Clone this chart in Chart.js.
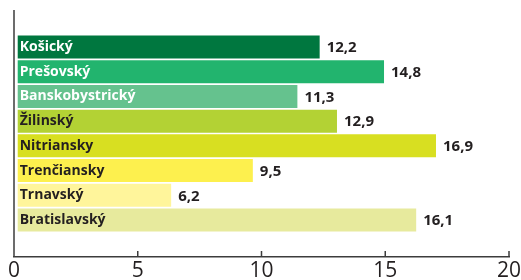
<!DOCTYPE html>
<html>
<head>
<meta charset="utf-8">
<script src="https://cdn.jsdelivr.net/npm/chart.js@4.4.1/dist/chart.umd.min.js"></script>
<style>
  body { margin: 0; background: #fff; }
  #wrap { width: 521px; height: 280px; position: relative; }
</style>
</head>
<body>
<div id="wrap"><canvas id="barChart"></canvas></div>
<script>
// Kraje a hodnoty
const kraje = ['Košický', 'Prešovský', 'Banskobystrický', 'Žilinský', 'Nitriansky', 'Trenčiansky', 'Trnavský', 'Bratislavský'];
const hodnoty = [12.2, 14.8, 11.3, 12.9, 16.9, 9.5, 6.2, 16.1];
const farby = ['#00773f', '#22b46e', '#65c28e', '#b3d234', '#d8df21', '#fdf04e', '#fff59b', '#e7ea9d'];
const farbyTextu = ['#ffffff', '#ffffff', '#ffffff', '#231f20', '#231f20', '#231f20', '#231f20', '#231f20'];
const xTicks = [0, 5, 10, 15, 20];

const dark = '#231f20';

// popisky v stĺpcoch + hodnoty za stĺpcom
const barLabels = {
  id: 'barLabels',
  afterDatasetsDraw(chart) {
    const ctx = chart.ctx;
    const meta = chart.getDatasetMeta(0);
    ctx.save();
    ctx.textBaseline = 'middle';
    meta.data.forEach((bar, i) => {
      ctx.font = 'bold 14px "Open Sans"';
      ctx.fillStyle = farbyTextu[i];
      ctx.textAlign = 'left';
      ctx.fillText(kraje[i], bar.base + 2, bar.y);
      ctx.font = 'bold 15px "Open Sans"';
      ctx.fillStyle = dark;
      ctx.fillText(hodnoty[i].toFixed(1).replace('.', ','), bar.x + 7, bar.y + 1);
    });
    ctx.restore();
  }
};

// os y + zárezy smerom hore
const axisMarks = {
  id: 'axisMarks',
  afterDraw(chart) {
    const ctx = chart.ctx;
    const a = chart.chartArea;
    const xs = chart.scales.x;
    ctx.save();
    ctx.strokeStyle = '#3c3c3c';
    ctx.lineWidth = 1.5;
    ctx.beginPath();
    ctx.moveTo(a.left, a.top);
    ctx.lineTo(a.left, a.bottom);
    xTicks.forEach(v => {
      const px = xs.getPixelForValue(v);
      ctx.moveTo(px, a.bottom);
      ctx.lineTo(px, a.bottom - 6);
    });
    ctx.stroke();
    ctx.restore();
  }
};

new Chart(document.getElementById('barChart'), {
  type: 'bar',
  data: {
    datasets: [{
      data: hodnoty.map((v, i) => ({ x: v, y: i })),
      backgroundColor: farby,
      xAxisID: 'xb',
      barPercentage: 0.93,
      categoryPercentage: 1
    }]
  },
  options: {
    indexAxis: 'y',
    responsive: true,
    maintainAspectRatio: false,
    animation: false,
    layout: { padding: { left: 14, right: 12, top: 10, bottom: 0 } },
    plugins: { legend: { display: false }, tooltip: { enabled: false } },
    scales: {
      y: { type: 'linear', min: -1.5, max: 8.5, reverse: true, offset: false, display: false },
      xb: { type: 'linear', min: -0.15, max: 19.85, display: false },
      x: {
        type: 'linear', min: 0, max: 20,
        afterBuildTicks: s => { s.ticks = xTicks.map(v => ({ value: v })); },
        afterFit: s => { s.height = 23; s.paddingLeft = 0; s.paddingRight = 0; },
        grid: { drawOnChartArea: false, drawTicks: false },
        border: { display: true, color: '#3c3c3c', width: 1.5 },
        ticks: { color: dark, padding: 4, font: { family: 'Open Sans', size: 21, lineHeight: 1 } }
      }
    }
  },
  plugins: [barLabels, axisMarks]
});
</script>
</body>
</html>
